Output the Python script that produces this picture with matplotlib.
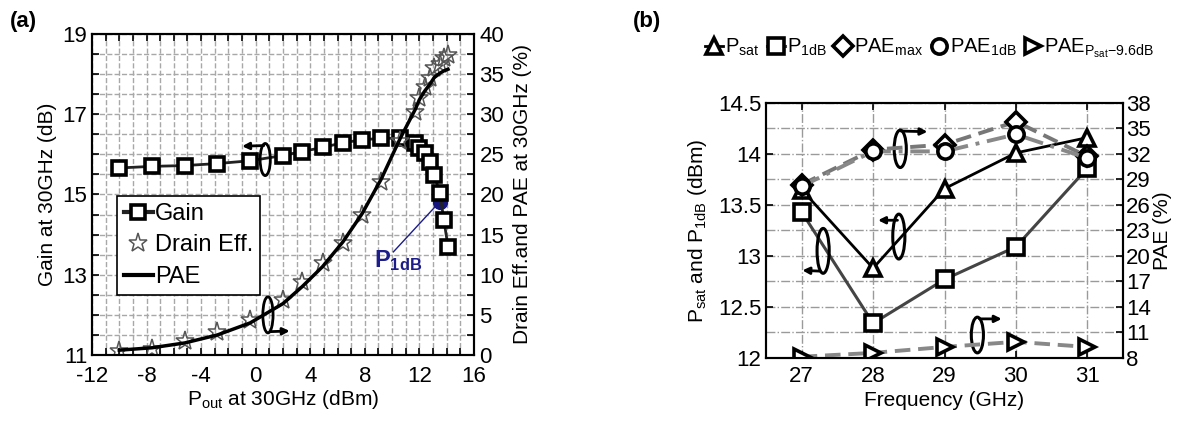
import matplotlib
matplotlib.use("Agg")
import matplotlib.pyplot as plt
from matplotlib.patches import Ellipse
from matplotlib.lines import Line2D
from matplotlib.ticker import MultipleLocator, FormatStrFormatter

plt.rcParams["font.family"] = ["Liberation Sans", "DejaVu Sans"]
plt.rcParams["mathtext.fontset"] = "custom"
plt.rcParams["mathtext.rm"] = "Liberation Sans"
plt.rcParams["mathtext.it"] = "Liberation Sans"
plt.rcParams["mathtext.bf"] = "Liberation Sans:bold"
plt.rcParams["axes.unicode_minus"] = False

# (a) power sweep at 30 GHz
pout = [-10, -7.6, -5.2, -2.8, -0.4, 2.0, 3.4, 4.9, 6.4, 7.8, 9.2, 10.6,
        11.7, 12.0, 12.4, 12.8, 13.1, 13.5, 13.8, 14.1]
gain = [15.66, 15.70, 15.72, 15.77, 15.84, 15.97, 16.07, 16.17, 16.29, 16.36,
        16.40, 16.40, 16.29, 16.16, 16.04, 15.82, 15.49, 15.03, 14.36, 13.70]
drain_eff = [0.5, 0.8, 1.8, 2.9, 4.4, 6.9, 9.1, 11.4, 14.0, 17.5, 21.6, 26.6,
             30.3, 32.0, 33.4, 34.5, 35.8, 36.3, 37.0, 37.4]
pae = [0.6, 0.9, 1.5, 2.5, 4.0, 6.4, 8.5, 11.0, 14.1, 17.6, 21.9, 27.0,
       30.6, 31.8, 32.9, 33.8, 34.6, 35.1, 35.4, 35.6]
p1db_x = 13.5
p1db_gain = 14.82
gain_ticks = [11, 13, 15, 17, 19]

# (b) frequency sweep
freq = [27, 28, 29, 30, 31]
psat = [13.65, 12.88, 13.66, 14.01, 14.16]
p1db = [13.43, 12.34, 12.77, 13.09, 13.86]
pae_max = [28.4, 32.5, 33.1, 35.8, 31.7]
pae_1db = [28.2, 32.3, 32.3, 34.3, 31.5]
pae_backoff = [8.15, 8.6, 9.3, 9.9, 9.3]
pae_ticks = [8, 11, 14, 17, 20, 23, 26, 29, 32, 35, 38]

fig = plt.figure(figsize=(12.01, 4.23), dpi=100)

# ---------------- panel (a) ----------------
ax = fig.add_axes([0.0766, 0.1608, 0.318, 0.759])
ax2 = ax.twinx()
ax.set_xlim(-12, 16)
ax.set_ylim(11, 19)
ax2.set_ylim(0, 40)
ax.xaxis.set_major_locator(MultipleLocator(4))
ax.xaxis.set_minor_locator(MultipleLocator(1))
ax.set_yticks(gain_ticks)
ax.yaxis.set_minor_locator(MultipleLocator(0.5))
ax2.yaxis.set_major_locator(MultipleLocator(5))
ax2.yaxis.set_minor_locator(MultipleLocator(2.5))
ax.grid(True, which="both", ls="--", color="#a8a8a8", lw=1)
ax.tick_params(which="both", direction="in", top=True, length=5, width=1.2, labelsize=16)
ax.tick_params(axis="x", pad=8)
ax2.tick_params(which="both", direction="in", length=5, width=1.2, labelsize=16, pad=4)
for a in (ax, ax2):
    for s in a.spines.values():
        s.set_linewidth(1.5)

ax.plot(pout, gain, color="#222222", lw=2, marker="s", ms=10, mfc="white",
        mec="black", mew=2.6, zorder=3)
ax2.plot(pout, drain_eff, ls="none", marker="*", ms=14, mfc="none",
         mec="#555555", mew=1.1)
ax2.plot(pout, pae, color="black", lw=2.5)

ax.plot([p1db_x, 10.1], [p1db_gain, 13.57], color="#1c1c8a", lw=1)
ax.plot(p1db_x, p1db_gain, "o", color="#15157d", ms=10)
ax.text(8.7, 13.2, r"$\mathbf{P}_{\mathbf{1dB}}$", color="#1c1c8a", fontsize=17)

ax.add_patch(Ellipse((0.7, 15.87), 0.75, 0.8, fill=False, lw=2, color="black", zorder=4))
ax.annotate("", xy=(-1.2, 16.2), xytext=(0.8, 16.22),
            arrowprops=dict(arrowstyle="-|>", lw=2, color="black"), zorder=4)
ax.add_patch(Ellipse((0.9, 12.0), 0.75, 0.9, fill=False, lw=2, color="black", zorder=4))
ax.annotate("", xy=(2.7, 11.6), xytext=(0.9, 11.58),
            arrowprops=dict(arrowstyle="-|>", lw=2, color="black"), zorder=4)

handles = [
    Line2D([], [], color="#222222", lw=3, marker="s", ms=10, mfc="white", mec="black", mew=2.6),
    Line2D([], [], ls="none", marker="*", ms=14, mfc="none", mec="#555555", mew=1.1),
    Line2D([], [], color="black", lw=3),
]
leg = ax2.legend(handles, ["Gain", "Drain Eff.", "PAE"], loc="lower left",
                 bbox_to_anchor=(0.035, 0.15), fontsize=17, handlelength=1.2,
                 handletextpad=0.1, borderpad=0.3, labelspacing=0.4,
                 fancybox=False, edgecolor="black", framealpha=1)
leg.get_frame().set_linewidth(1.2)

ax.set_xlabel(r"P$_{\rm out}$ at 30GHz (dBm)", fontsize=15, labelpad=1)
ax.set_ylabel("Gain at 30GHz (dB)", fontsize=15, labelpad=4)
ax2.set_ylabel("Drain Eff.and PAE at 30GHz (%)", fontsize=15, labelpad=6)
fig.text(0.008, 0.935, "(a)", fontsize=16, fontweight="bold")

# ---------------- panel (b) ----------------
bx = fig.add_axes([0.6378, 0.1537, 0.2973, 0.603])
bx2 = bx.twinx()
bx.set_xlim(26.5, 31.5)
bx.set_ylim(12, 14.5)
bx2.set_ylim(8, 38)
bx.set_xticks(freq)
bx.yaxis.set_major_locator(MultipleLocator(0.5))
bx.yaxis.set_major_formatter(FormatStrFormatter("%g"))
bx.yaxis.set_minor_locator(MultipleLocator(0.25))
bx2.set_yticks(pae_ticks)
bx.grid(True, which="both", ls="-.", color="#9a9a9a", lw=1)
bx.tick_params(which="both", direction="in", top=True, length=5, width=1.2, labelsize=16)
bx.tick_params(axis="x", pad=6)
bx.tick_params(which="minor", length=0)
bx2.tick_params(direction="in", length=5, width=1.2, labelsize=16, pad=2)
for a in (bx, bx2):
    for s in a.spines.values():
        s.set_linewidth(1.5)

mk = dict(ms=11, mfc="white", mec="black", mew=2.6)
l_psat, = bx.plot(freq, psat, color="black", lw=2, marker="^", zorder=3, **mk)
l_p1db, = bx.plot(freq, p1db, color="#444444", lw=2.2, marker="s", zorder=3, **mk)
l_max, = bx2.plot(freq, pae_max, color="#777777", lw=2.8, ls=(0, (4, 2)), marker="D",
                  ms=10, mfc="white", mec="black", mew=2.6)
l_1db, = bx2.plot(freq, pae_1db, color="#888888", lw=2.8, ls=(0, (5, 2, 1, 2)), marker="o",
                  ms=11, mfc="white", mec="black", mew=2.6)
l_bo, = bx2.plot(freq, pae_backoff, color="#888888", lw=2.8, ls=(0, (4, 2)), marker=">",
                 ms=12, mfc="white", mec="black", mew=2.6)

bx2.add_patch(Ellipse((28.38, 32.6), 0.17, 4.4, fill=False, lw=2.2, color="black"))
bx2.annotate("", xy=(28.8, 34.6), xytext=(28.35, 34.7),
             arrowprops=dict(arrowstyle="-|>", lw=2, color="black"))
bx.add_patch(Ellipse((28.36, 13.19), 0.17, 0.44, fill=False, lw=2.2, color="black", zorder=4))
bx.annotate("", xy=(28.03, 13.35), xytext=(28.38, 13.35),
            arrowprops=dict(arrowstyle="-|>", lw=2, color="black"), zorder=4)
bx.add_patch(Ellipse((27.3, 13.05), 0.17, 0.44, fill=False, lw=2.2, color="black", zorder=4))
bx.annotate("", xy=(26.97, 12.86), xytext=(27.3, 12.85),
            arrowprops=dict(arrowstyle="-|>", lw=2, color="black"), zorder=4)
bx2.add_patch(Ellipse((29.46, 10.7), 0.17, 4.2, fill=False, lw=2.2, color="black"))
bx2.annotate("", xy=(29.84, 12.6), xytext=(29.45, 12.6),
             arrowprops=dict(arrowstyle="-|>", lw=2, color="black"))

bx.set_xlabel("Frequency (GHz)", fontsize=15, labelpad=3)
bx.set_ylabel(r"P$_{\rm sat}$ and P$_{\rm 1dB}$ (dBm)", fontsize=15, labelpad=6)
bx2.set_ylabel("PAE (%)", fontsize=15, labelpad=2)

fig.legend([l_psat, l_p1db, l_max, l_1db, l_bo],
           [r"P$_{\rm sat}$", r"P$_{\rm 1dB}$", r"PAE$_{\rm max}$", r"PAE$_{\rm 1dB}$",
            r"PAE$_{\rm P_{sat}{-}9.6dB}$"],
           loc="center left", bbox_to_anchor=(0.572, 0.885), ncol=5, frameon=False,
           fontsize=14.5, handlelength=0.9, handletextpad=0.1, columnspacing=0.35)
fig.text(0.527, 0.935, "(b)", fontsize=16, fontweight="bold")

fig.savefig("out.png", dpi=100)
